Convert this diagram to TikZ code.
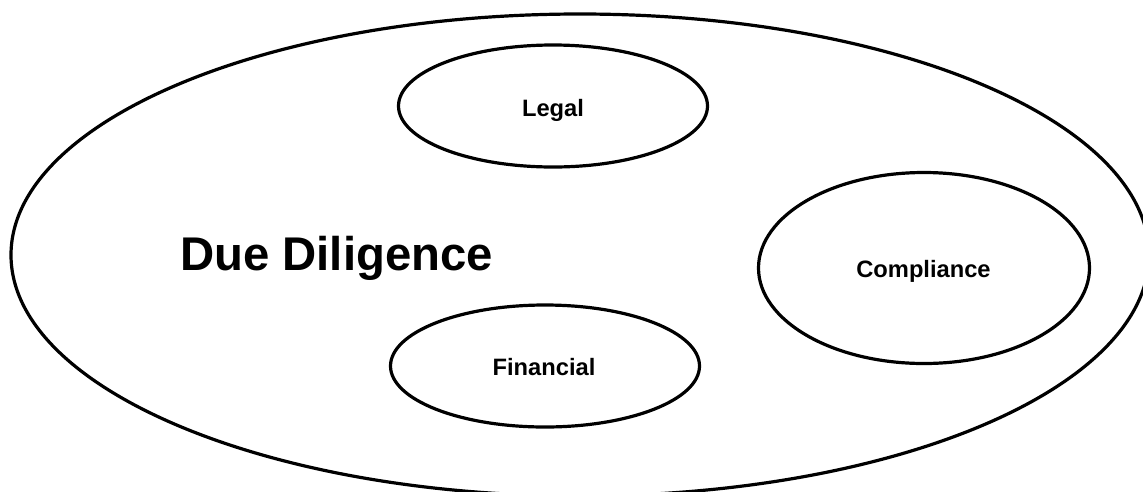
\documentclass[tikz,border=0pt]{standalone}
\usepackage{fontspec}
\setmainfont{Liberation Sans}
\usetikzlibrary{shapes.geometric}
\tikzset{
  oval/.style={draw=black, line width=3.2pt, ellipse, inner sep=0pt, outer sep=0pt},
  smalllabel/.style={font=\bfseries\fontsize{23.7}{28}\selectfont, inner sep=0pt, anchor=base},
  biglabel/.style={font=\bfseries\fontsize{47.3}{56}\selectfont, inner sep=0pt, anchor=base}
}
\begin{document}
\begin{tikzpicture}[x=1pt, y=-1pt]
  \useasboundingbox (0,0) rectangle (1143,491);
  \fill[white] (0,0) rectangle (1143,491);
  \node[oval, minimum width=1138pt, minimum height=482pt] (dd) at (580,255) {};
  \node[oval, minimum width=309pt, minimum height=122pt] (legal) at (553,106) {};
  \node[oval, minimum width=331pt, minimum height=191pt] (comp) at (924,268) {};
  \node[oval, minimum width=309pt, minimum height=122pt] (fin) at (545,366) {};
  \node[biglabel] (ddt) at (336.5,270) {Due Diligence};
  \node[smalllabel] (legalt) at (553,116) {Legal};
  \node[smalllabel] (compt) at (923.5,277) {Compliance};
  \node[smalllabel] (fint) at (544,375) {Financial};
\end{tikzpicture}
\end{document}
